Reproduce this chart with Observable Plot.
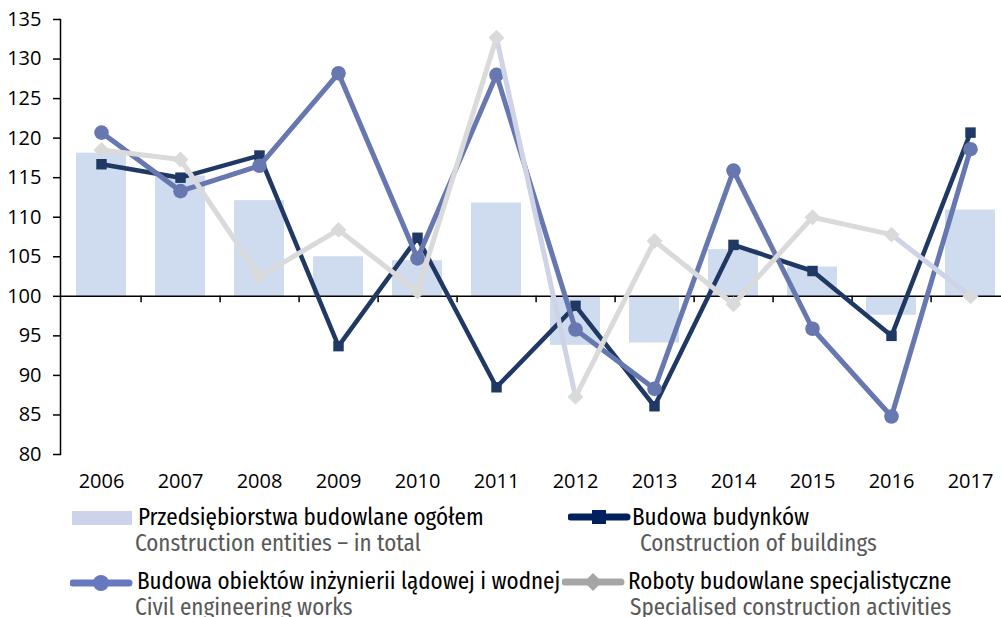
<!DOCTYPE html>
<html>
<head>
<meta charset="utf-8">
<script src="https://cdn.jsdelivr.net/npm/d3@7"></script>
<script src="https://cdn.jsdelivr.net/npm/@observablehq/plot@0.6"></script>
<style>
  html, body { margin: 0; padding: 0; background: #fff; overflow: hidden; }
  #wrap { position: relative; width: 1001px; height: 617px; }
  #chart svg { display: block; }
  .lg { position: absolute; font-family: "Fira Sans Condensed", "DejaVu Sans Condensed", sans-serif; font-size: 23px; white-space: nowrap; line-height: 1; }
  .pl { color: #000; }
  .en { color: #595959; }
  .sw { position: absolute; }
</style>
</head>
<body>
<div id="wrap">
  <div id="chart"></div>
  <div id="legend"></div>
</div>
<script>
const years = [2006, 2007, 2008, 2009, 2010, 2011, 2012, 2013, 2014, 2015, 2016, 2017];
const total = [118.1, 115.2, 112.1, 105.0, 104.5, 111.8, 93.8, 94.1, 105.9, 103.7, 97.6, 110.9];
const buildings = [116.7, 115.0, 117.8, 93.7, 107.4, 88.5, 98.8, 86.1, 106.5, 103.2, 95.0, 120.7];
const civil = [120.7, 113.3, 116.5, 128.2, 104.8, 128.0, 95.8, 88.3, 115.9, 95.9, 84.8, 118.6];
const specialised = [118.5, 117.3, 102.5, 108.4, 100.6, 132.7, 87.3, 107.0, 99.0, 110.0, 107.8, 100.0];
const yTicks = [80, 85, 90, 95, 100, 105, 110, 115, 120, 125, 130, 135];

const legendPl = ["Przedsiębiorstwa budowlane ogółem", "Budowa budynków", "Budowa obiektów inżynierii lądowej i wodnej", "Roboty budowlane specjalistyczne"];
const legendEn = ["Construction entities – in total", "Construction of buildings", "Civil engineering works", "Specialised construction activities"];

const rows = years.map((year, i) => ({year, total: total[i], buildings: buildings[i], civil: civil[i], specialised: specialised[i]}));
const segs = years.slice(0, -1).map((year, i) => ({
  x1: year, x2: years[i + 1], y1: specialised[i], y2: specialised[i + 1],
  c: (i === 5 || i === 10) ? "#cfd3e6" : "#dadada"
}));

const xLeft = 60, xRight = 1010.6;
const step = (xRight - xLeft) / years.length;

const NAVY = "#1f3864", CIVIL = "#6777b0", GRAY = "#dadada", BAR = "#cfdcef";

const chart = Plot.plot({
  width: 1001,
  height: 500,
  marginLeft: 60,
  marginRight: 0,
  marginTop: 19,
  marginBottom: 46,
  x: {type: "band", domain: years, range: [xLeft, xRight], paddingInner: 0.37, paddingOuter: 0.185},
  y: {domain: [80, 135], range: [454, 19]},
  color: {type: "identity"},
  style: {fontFamily: "'Open Sans', sans-serif", fontSize: "20px", color: "#000", background: "#fff"},
  marks: [
    Plot.barY(rows, {x: "year", y1: 100, y2: "total", fill: BAR}),
    Plot.ruleY([100], {stroke: "#000", strokeWidth: 1.5}),
    Plot.ruleX(years.slice(0, -1), {x: d => d, y1: 100, y2: 99.2, dx: step / 2, stroke: "#000", strokeWidth: 1.5}),
    Plot.frame({anchor: "left", stroke: "#000", strokeWidth: 1.5}),
    Plot.axisY({ticks: yTicks, tickSize: 7, tickPadding: 12, tickFormat: d => String(d), strokeWidth: 1.5, label: null}),
    Plot.axisX({tickSize: 0, tickPadding: 19, tickFormat: d => String(d), label: null}),
    Plot.line(rows, {x: "year", y: "buildings", stroke: NAVY, strokeWidth: 4.5}),
    Plot.dot(rows, {x: "year", y: "buildings", symbol: "square", r: 5.9, fill: NAVY, stroke: "none"}),
    Plot.line(rows, {x: "year", y: "civil", stroke: CIVIL, strokeWidth: 5}),
    Plot.dot(rows, {x: "year", y: "civil", symbol: "circle", r: 7.3, fill: CIVIL, stroke: "none"}),
    Plot.link(segs, {x1: "x1", y1: "y1", x2: "x2", y2: "y2", stroke: "c", strokeWidth: 5, strokeLinecap: "round"}),
    Plot.dot(rows, {x: "year", y: "specialised", symbol: "diamond2", r: 7.2, fill: GRAY, stroke: "none"})
  ]
});
document.getElementById("chart").appendChild(chart);

// Legend
const legend = document.getElementById("legend");
function swatch(left, top, type, color, sym) {
  const ns = "http://www.w3.org/2000/svg";
  const s = document.createElementNS(ns, "svg");
  s.setAttribute("width", 64); s.setAttribute("height", 20);
  s.setAttribute("class", "sw");
  s.style.left = left + "px"; s.style.top = top + "px";
  if (type === "bar") {
    const r = document.createElementNS(ns, "rect");
    r.setAttribute("x", 0); r.setAttribute("y", 3); r.setAttribute("width", 60); r.setAttribute("height", 14);
    r.setAttribute("fill", color);
    s.appendChild(r);
  } else {
    const l = document.createElementNS(ns, "line");
    l.setAttribute("x1", 3); l.setAttribute("x2", 59); l.setAttribute("y1", 10); l.setAttribute("y2", 10);
    l.setAttribute("stroke", color); l.setAttribute("stroke-width", 7); l.setAttribute("stroke-linecap", "round");
    s.appendChild(l);
    let m;
    if (sym === "square") {
      m = document.createElementNS(ns, "rect");
      m.setAttribute("x", 24); m.setAttribute("y", 3); m.setAttribute("width", 14); m.setAttribute("height", 14);
    } else if (sym === "circle") {
      m = document.createElementNS(ns, "circle");
      m.setAttribute("cx", 31); m.setAttribute("cy", 10); m.setAttribute("r", 8);
    } else {
      m = document.createElementNS(ns, "path");
      m.setAttribute("d", "M31,1 L40,10 L31,19 L22,10 Z");
    }
    m.setAttribute("fill", color);
    s.appendChild(m);
  }
  legend.appendChild(s);
}
function label(left, top, text, cls) {
  const d = document.createElement("div");
  d.className = "lg " + cls;
  d.style.left = left + "px"; d.style.top = top + "px";
  d.textContent = text;
  legend.appendChild(d);
}
swatch(72, 508, "bar", "#cdd4e9");
label(138, 506, legendPl[0], "pl");
label(135, 532, legendEn[0], "en");
swatch(568, 507, "line", "#002060", "square");
label(632, 506, legendPl[1], "pl");
label(640, 532, legendEn[1], "en");
swatch(70, 573, "line", "#6777c0", "circle");
label(137, 570, legendPl[2], "pl");
label(135, 596, legendEn[2], "en");
swatch(562, 572, "line", "#a6a6a6", "diamond");
label(628, 570, legendPl[3], "pl");
label(630, 596, legendEn[3], "en");
</script>
</body>
</html>
